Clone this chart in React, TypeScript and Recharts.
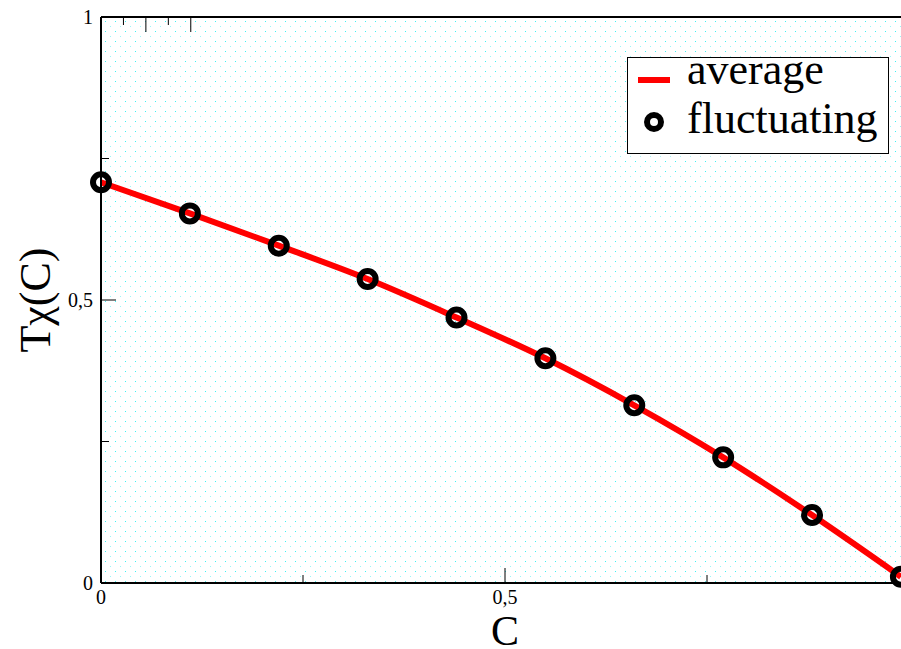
import React from "react";
import { ComposedChart, Line, Scatter, XAxis, YAxis, CartesianGrid } from "recharts";

// C values of the sampled points
const cValues = [0, 0.11, 0.22, 0.33, 0.44, 0.55, 0.66, 0.77, 0.88, 0.99];
// T chi(C), averaged curve
const averageValues = [0.708, 0.653, 0.596, 0.537, 0.469, 0.397, 0.314, 0.222, 0.12, 0.011];
// T chi(C), fluctuating simulation
const fluctuatingValues = [0.708, 0.653, 0.596, 0.537, 0.469, 0.397, 0.314, 0.222, 0.12, 0.011];

const xTicks = [0, 0.25, 0.5, 0.75, 1];
const yTicks = [0, 0.25, 0.5, 0.75, 1];
const xTickLabels = [0, 0.5];
const yTickLabels = [0, 0.5, 1];
const seriesNames = ["average", "fluctuating"];

const FONT = "Liberation Serif";
const MAJOR = 15;
const MINOR = 8;

const data = cValues.map((c, i) => ({
    c,
    avg: averageValues[i],
    fluct: fluctuatingValues[i],
}));

const isMajor = (v: number) => Math.abs(v * 2 - Math.round(v * 2)) < 1e-6;
const fmt = (v: number) => String(v).replace(".", ",");
const serif = { fontFamily: FONT };

function BottomTick(props: any) {
    const { x, y, payload } = props;
    const v = payload.value as number;
    const len = isMajor(v) ? MAJOR : MINOR;
    return (
        <g>
            <line x1={x} x2={x} y1={y} y2={y - len} stroke="#000" strokeWidth={1} />
            {xTickLabels.includes(v) && (
                <text x={x} y={y + 7} dy="0.71em" textAnchor="middle" fontFamily={FONT} style={serif} fontSize={20} fill="#000">
                    {fmt(v)}
                </text>
            )}
        </g>
    );
}

function TopTick(props: any) {
    const { x, y, payload } = props;
    const len = isMajor(payload.value) ? MAJOR : MINOR;
    return <line x1={x} x2={x} y1={y} y2={y + len} stroke="#000" strokeWidth={1} />;
}

function LeftTick(props: any) {
    const { x, y, payload } = props;
    const v = payload.value as number;
    const len = isMajor(v) ? MAJOR : MINOR;
    return (
        <g>
            <line x1={x} x2={x + len} y1={y} y2={y} stroke="#000" strokeWidth={1} />
            {yTickLabels.includes(v) && (
                <text x={x - 8} y={y} dy="0.34em" textAnchor="end" fontFamily={FONT} style={serif} fontSize={20} fill="#000">
                    {fmt(v)}
                </text>
            )}
        </g>
    );
}

function XTitle(props: any) {
    const vb = props.viewBox || { x: 101, y: 583, width: 808, height: 66 };
    return (
        <text x={vb.x + vb.width / 2} y={vb.y + vb.height - 4} textAnchor="middle" fontFamily={FONT} style={serif} fontSize={42} fill="#000">
            C
        </text>
    );
}

function YTitle(props: any) {
    const vb = props.viewBox || { x: 0, y: 17, width: 101, height: 566 };
    const cx = 50;
    const cy = vb.y + vb.height / 2;
    return (
        <text x={cx} y={cy} transform={`rotate(-90 ${cx} ${cy})`} textAnchor="middle" fontFamily={FONT} style={serif} fontSize={44} fill="#000">
            Tχ(C)
        </text>
    );
}

// legend box, laid over the plot's top right corner
function LegendBox() {
    const row = { position: "absolute" as const, left: 59, fontSize: 44, lineHeight: "44px", fontFamily: FONT, color: "#000", whiteSpace: "nowrap" as const };
    return (
        <div style={{ position: "absolute", left: 627, top: 57, boxSizing: "border-box", width: 262, height: 97, border: "1.5px solid #000", background: "#fff" }}>
            <svg width={259} height={94} style={{ position: "absolute", left: 0, top: 0 }}>
                <line x1={10} x2={42} y1={22} y2={22} stroke="#ff0000" strokeWidth={6} />
                <circle cx={26} cy={64} r={7} fill="none" stroke="#000" strokeWidth={6} />
            </svg>
            <div style={{ ...row, top: -10 }}>{seriesNames[0]}</div>
            <div style={{ ...row, top: 39 }}>{seriesNames[1]}</div>
        </div>
    );
}

export default function App() {
    return (
        <div style={{ position: "absolute", left: 0, top: 0, width: 901, height: 649, overflow: "hidden", background: "#fff", fontFamily: FONT }}>
            <ComposedChart width={940} height={649} data={data} margin={{ top: 0, right: 31, bottom: 0, left: 0 }}>
                <defs>
                    <pattern id="dotFill" x={0} y={0} width={10} height={10} patternUnits="userSpaceOnUse">
                        <rect x={0} y={0} width={10} height={10} fill="#fff" />
                        <rect x={5} y={1} width={1} height={1} fill="#3ff0f4" />
                        <rect x={0} y={6} width={1} height={1} fill="#9af6f8" />
                    </pattern>
                </defs>
                <CartesianGrid horizontal={false} vertical={false} fill="url(#dotFill)" />
                <XAxis
                    dataKey="c"
                    type="number"
                    domain={[0, 1]}
                    ticks={xTicks}
                    interval={0}
                    height={66}
                    tickSize={0}
                    tickMargin={0}
                    tickLine={false}
                    axisLine={{ stroke: "#000", strokeWidth: 2 }}
                    tick={(p: any) => <BottomTick {...p} />}
                    label={{ content: (p: any) => <XTitle {...p} /> }}
                />
                <XAxis
                    xAxisId="top"
                    orientation="top"
                    type="number"
                    domain={[0, 1]}
                    ticks={xTicks}
                    interval={0}
                    height={17}
                    tickSize={0}
                    tickMargin={0}
                    tickLine={false}
                    axisLine={{ stroke: "#000", strokeWidth: 2 }}
                    tick={(p: any) => <TopTick {...p} />}
                />
                <YAxis
                    type="number"
                    domain={[0, 1]}
                    ticks={yTicks}
                    interval={0}
                    width={101}
                    tickSize={0}
                    tickMargin={0}
                    tickLine={false}
                    axisLine={{ stroke: "#000", strokeWidth: 2 }}
                    tick={(p: any) => <LeftTick {...p} />}
                    label={{ content: (p: any) => <YTitle {...p} /> }}
                />
                <Line
                    name={seriesNames[0]}
                    type="monotone"
                    dataKey="avg"
                    stroke="#ff0000"
                    strokeWidth={6}
                    dot={false}
                    activeDot={false}
                    isAnimationActive={false}
                />
                <Scatter
                    name={seriesNames[1]}
                    dataKey="fluct"
                    isAnimationActive={false}
                    shape={(p: any) => <circle cx={p.cx} cy={p.cy} r={8} fill="none" stroke="#000" strokeWidth={6} />}
                />
            </ComposedChart>
            <LegendBox />
        </div>
    );
}
